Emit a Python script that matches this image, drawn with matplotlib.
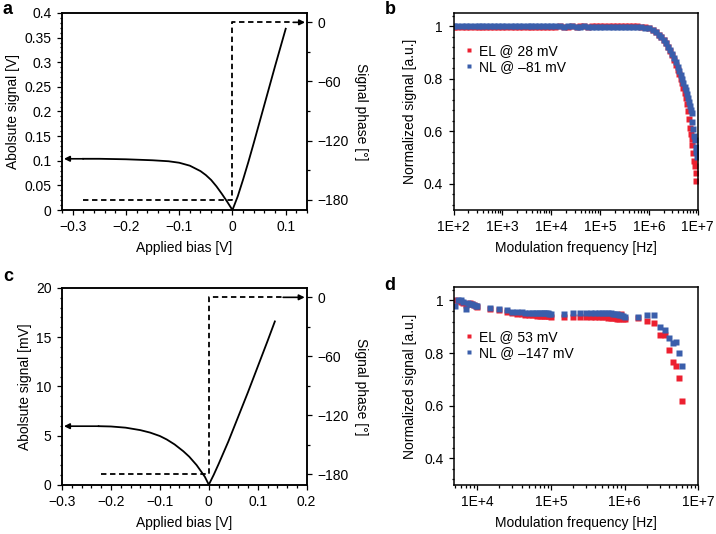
import numpy as np
import matplotlib
matplotlib.use('Agg')
from matplotlib import pyplot as plt
from matplotlib.ticker import MultipleLocator, FixedLocator, FuncFormatter, LogLocator, NullFormatter

plt.rcParams['font.family'] = ['Liberation Sans', 'DejaVu Sans']
plt.rcParams['font.size'] = 10

RED = '#ec2030'
BLUE = '#3a5eab'

# ---- panel a: absolute signal and phase vs bias ----
bias_a = [-0.28, -0.25, -0.2, -0.15, -0.12, -0.1, -0.08, -0.06, -0.05, -0.04, -0.03, -0.02, -0.01, 0.0,
          0.01, 0.02, 0.03, 0.04, 0.05, 0.06, 0.07, 0.08, 0.09, 0.1]
abs_a = [0.104, 0.104, 0.103, 0.101, 0.099, 0.096, 0.090, 0.079, 0.071, 0.061, 0.048, 0.033, 0.017, 0.0,
         0.028, 0.062, 0.098, 0.136, 0.175, 0.214, 0.253, 0.292, 0.330, 0.368]
phase_bias_a = [-0.28, 0.0, 0.0, 0.114]
phase_a = [-180, -180, 0, 0]

# ---- panel c ----
bias_c = [-0.225, -0.2, -0.17, -0.14, -0.12, -0.1, -0.086, -0.07, -0.052, -0.04, -0.025, -0.015, -0.008, 0.0,
          0.01, 0.02, 0.04, 0.06, 0.08, 0.1, 0.12, 0.135]
abs_c = [5.95, 5.92, 5.8, 5.55, 5.3, 4.95, 4.6, 4.1, 3.4, 2.85, 2.0, 1.3, 0.8, 0.0,
         1.0, 2.1, 4.4, 6.9, 9.4, 12.0, 14.6, 16.6]
phase_bias_c = [-0.22, 0.0, 0.0, 0.152]
phase_c = [-180, -180, 0, 0]

# ---- panel b: frequency response ----
freq_b = [100, 120, 150, 180, 220, 270, 330, 390, 470, 560, 680, 820,
          1000, 1200, 1500, 1800, 2200, 2700, 3300, 3900, 4700, 5600, 6800, 8200,
          1e4, 1.2e4, 1.5e4, 1.8e4, 2.2e4, 2.7e4, 3.3e4, 3.9e4, 4.7e4, 5.6e4, 6.8e4, 8.2e4,
          1e5, 1.2e5, 1.5e5, 1.8e5, 2.2e5, 2.7e5, 3.3e5, 3.9e5, 4.7e5, 5.6e5, 6.8e5, 8.2e5,
          1e6, 1.2e6, 1.4e6, 1.6e6, 1.8e6, 2.0e6, 2.25e6, 2.5e6, 2.75e6, 3.0e6, 3.3e6, 3.6e6,
          3.9e6, 4.2e6, 4.5e6, 4.8e6, 5.1e6, 5.4e6, 5.7e6, 6.0e6, 6.3e6, 6.6e6, 6.9e6, 7.2e6,
          7.5e6, 7.8e6, 8.1e6, 8.4e6, 8.7e6, 9.0e6, 9.3e6, 9.6e6]
el_b = [0.995, 0.996, 0.995, 0.996, 0.996, 0.997, 0.996, 0.997, 0.997, 0.996, 0.997, 0.997,
        0.997, 0.997, 0.998, 0.997, 0.998, 0.998, 0.997, 0.998, 0.998, 0.998, 0.998, 0.998,
        0.998, 0.998, 0.999, 0.998, 0.998, 0.999, 0.998, 0.999, 0.999, 0.998, 0.999, 0.999,
        0.999, 0.999, 0.999, 1.0, 1.0, 1.0, 1.0, 1.0, 0.999, 0.999, 0.998, 0.996,
        0.993, 0.987, 0.978, 0.968, 0.958, 0.948, 0.935, 0.921, 0.906, 0.891, 0.872, 0.853,
        0.834, 0.818, 0.800, 0.782, 0.765, 0.745, 0.725, 0.703, 0.675, 0.648, 0.612, 0.590,
        0.572, 0.548, 0.518, 0.488, 0.468, 0.442, 0.410]
nl_b = [1.0, 1.001, 1.0, 1.0, 1.001, 1.0, 1.0, 1.0, 1.001, 1.0, 1.0, 1.0,
        1.0, 1.0, 1.0, 0.999, 1.0, 1.0, 0.999, 1.0, 0.999, 0.999, 1.0, 0.999,
        0.999, 0.999, 0.999, 0.998, 0.999, 0.999, 0.998, 0.998, 0.999, 0.998, 0.998, 0.998,
        0.998, 0.998, 0.998, 0.998, 0.998, 0.997, 0.997, 0.997, 0.996, 0.996, 0.995, 0.994,
        0.992, 0.986, 0.977, 0.966, 0.957, 0.946, 0.935, 0.922, 0.910, 0.895, 0.878, 0.862,
        0.846, 0.830, 0.815, 0.800, 0.785, 0.770, 0.755, 0.740, 0.725, 0.710, 0.695, 0.682,
        0.668, 0.635, 0.610, 0.580, 0.565, 0.540, 0.520, 0.500]
decades_b = [1e2, 1e3, 1e4, 1e5, 1e6, 1e7]

# ---- panel d ----
freq_d = [5000, 5500, 6000, 6500, 7000, 7500, 8000, 8500, 9000, 9500, 10000,
          15000, 20000, 25000, 30000, 35000, 40000, 45000, 50000, 55000, 60000,
          65000, 70000, 75000, 80000, 85000, 90000, 95000, 100000,
          150000, 200000, 250000, 300000, 350000, 400000, 450000, 500000, 550000, 600000,
          650000, 700000, 750000, 800000, 850000, 900000, 950000, 1000000,
          1500000, 2000000, 2500000, 3000000, 3500000, 4000000, 4500000, 5000000, 5500000, 6000000]
el_d = [1.003, 0.999, 0.995, 0.990, 0.984, 0.988, 0.990, 0.986, 0.982, 0.979, 0.976,
        0.968, 0.963, 0.958, 0.952, 0.950, 0.948, 0.946, 0.945, 0.944, 0.943,
        0.942, 0.942, 0.941, 0.941, 0.940, 0.940, 0.940, 0.939,
        0.938, 0.939, 0.939, 0.939, 0.938, 0.938, 0.937, 0.937, 0.936, 0.935,
        0.934, 0.933, 0.932, 0.931, 0.930, 0.948, 0.931, 0.930,
        0.933, 0.922, 0.915, 0.868, 0.869, 0.810, 0.765, 0.750, 0.705, 0.617]
nl_d = [0.978, 1.0, 1.0, 0.995, 0.968, 0.990, 0.985, 0.988, 0.984, 0.980, 0.978,
        0.973, 0.968, 0.964, 0.958, 0.956, 0.955, 0.954, 0.953, 0.953, 0.952,
        0.952, 0.952, 0.951, 0.951, 0.951, 0.951, 0.950, 0.950,
        0.950, 0.951, 0.953, 0.953, 0.954, 0.953, 0.953, 0.954, 0.953, 0.952,
        0.952, 0.950, 0.950, 0.948, 0.946, 0.944, 0.942, 0.938,
        0.939, 0.946, 0.943, 0.901, 0.888, 0.856, 0.840, 0.843, 0.801, 0.750]
decades_d = [1e4, 1e5, 1e6, 1e7]


def style_axis(ax):
    for s in ax.spines.values():
        s.set_linewidth(1.1)
    ax.tick_params(which='both', direction='out', width=0.9, pad=4)
    ax.tick_params(which='major', length=3.5)
    ax.tick_params(which='minor', length=1.8)


def bias_panel(ax, bias, absval, pb, ph, xlim, ylim, xmaj, ymaj, ylabel, ytick_fmt):
    ax.plot(bias, absval, color='k', lw=1.3)
    ax.set_xlim(*xlim)
    ax.set_ylim(*ylim)
    ax.xaxis.set_major_locator(MultipleLocator(xmaj))
    ax.xaxis.set_minor_locator(MultipleLocator(xmaj / 5))
    ax.yaxis.set_major_locator(MultipleLocator(ymaj))
    ax.yaxis.set_minor_locator(MultipleLocator(ymaj / 5))
    ax.yaxis.set_major_formatter(FuncFormatter(ytick_fmt))
    ax.xaxis.set_major_formatter(FuncFormatter(lambda v, p: '0' if abs(v) < 1e-9 else ('%g' % v).replace('-', '\u2212')))
    ax.set_xlabel('Applied bias [V]', labelpad=5)
    ax.set_ylabel(ylabel, labelpad=3)
    # arrow to left axis from start of curve
    ax.annotate('', xy=(0.008, absval[0]), xycoords=ax.get_yaxis_transform(),
                xytext=(bias[0], absval[0]), textcoords='data',
                arrowprops=dict(arrowstyle='-|>', color='k', lw=1.2, shrinkA=0, shrinkB=0, mutation_scale=8))
    style_axis(ax)

    axt = ax.twinx()
    axt.plot(pb, ph, color='k', lw=1.3, dashes=(3, 2))
    axt.set_ylim(-190.5, 9.5)
    axt.yaxis.set_major_locator(FixedLocator([-180, -120, -60, 0]))
    axt.yaxis.set_minor_locator(FixedLocator([-150, -90, -30]))
    axt.yaxis.set_major_formatter(FuncFormatter(lambda v, p: '0' if v == 0 else ('%d' % v).replace('-', '\u2212')))
    axt.set_ylabel('Signal phase [\u00b0]', rotation=270, labelpad=14)
    axt.annotate('', xy=(0.992, ph[-1]), xycoords=axt.get_yaxis_transform(),
                 xytext=(pb[-1], ph[-1]), textcoords='data',
                 arrowprops=dict(arrowstyle='-|>', color='k', lw=1.2, shrinkA=0, shrinkB=0, mutation_scale=8))
    style_axis(axt)
    return axt


def freq_panel(ax, f_el, el, f_nl, nl, xlim, decades, labels, leg_y):
    ax.plot(f_el, el, 's', color=RED, ms=4.0, mec='none', label=labels[0])
    ax.plot(f_nl, nl, 's', color=BLUE, ms=4.0, mec='none', label=labels[1])
    ax.set_xscale('log')
    ax.set_xlim(*xlim)
    ax.set_ylim(0.3, 1.05)
    ax.xaxis.set_major_locator(FixedLocator(decades))
    ax.xaxis.set_minor_locator(LogLocator(base=10, subs=np.arange(2, 10), numticks=50))
    ax.xaxis.set_minor_formatter(NullFormatter())
    ax.xaxis.set_major_formatter(FuncFormatter(lambda v, p: '1E+%d' % round(np.log10(v))))
    ax.yaxis.set_major_locator(FixedLocator([0.4, 0.6, 0.8, 1.0]))
    ax.yaxis.set_minor_locator(MultipleLocator(0.04))
    ax.yaxis.set_major_formatter(FuncFormatter(lambda v, p: '%g' % v))
    ax.set_xlabel('Modulation frequency [Hz]', labelpad=5)
    ax.set_ylabel('Normalized signal [a.u.]', labelpad=5)
    ax.legend(loc='upper left', bbox_to_anchor=(0.03, leg_y), frameon=False, handlelength=0.4,
              handletextpad=0.5, labelspacing=0.1, borderaxespad=0, markerscale=0.85, fontsize=10)
    style_axis(ax)


fig = plt.figure(figsize=(7.16, 5.34), dpi=100)

ax_a = fig.add_axes([0.0866, 0.6067, 0.3422, 0.369])
ax_b = fig.add_axes([0.6334, 0.6067, 0.3411, 0.369])
ax_c = fig.add_axes([0.0866, 0.0923, 0.3417, 0.3684])
ax_d = fig.add_axes([0.6337, 0.0923, 0.3416, 0.3697])

bias_panel(ax_a, bias_a, abs_a, phase_bias_a, phase_a, (-0.32, 0.14), (0, 0.4), 0.1, 0.05,
           'Abolsute signal [V]', lambda v, p: '0' if v == 0 else '%g' % v)
bias_panel(ax_c, bias_c, abs_c, phase_bias_c, phase_c, (-0.3, 0.2), (0, 20), 0.1, 5,
           'Abolsute signal [mV]', lambda v, p: '%d' % v)

freq_panel(ax_b, freq_b[:len(el_b)], el_b, freq_b, nl_b, (100, 1e7), decades_b,
           ['EL @ 28 mV', 'NL @ \u201381 mV'], 0.87)
freq_panel(ax_d, freq_d, el_d, freq_d, nl_d, (4.8e3, 1e7), decades_d,
           ['EL @ 53 mV', 'NL @ \u2013147 mV'], 0.81)

fig.text(0.004, 0.982, 'a', fontsize=13, fontweight='bold', va='center')
fig.text(0.537, 0.982, 'b', fontsize=13, fontweight='bold', va='center')
fig.text(0.004, 0.482, 'c', fontsize=13, fontweight='bold', va='center')
fig.text(0.537, 0.465, 'd', fontsize=13, fontweight='bold', va='center')

fig.savefig('out.png', dpi=100)
